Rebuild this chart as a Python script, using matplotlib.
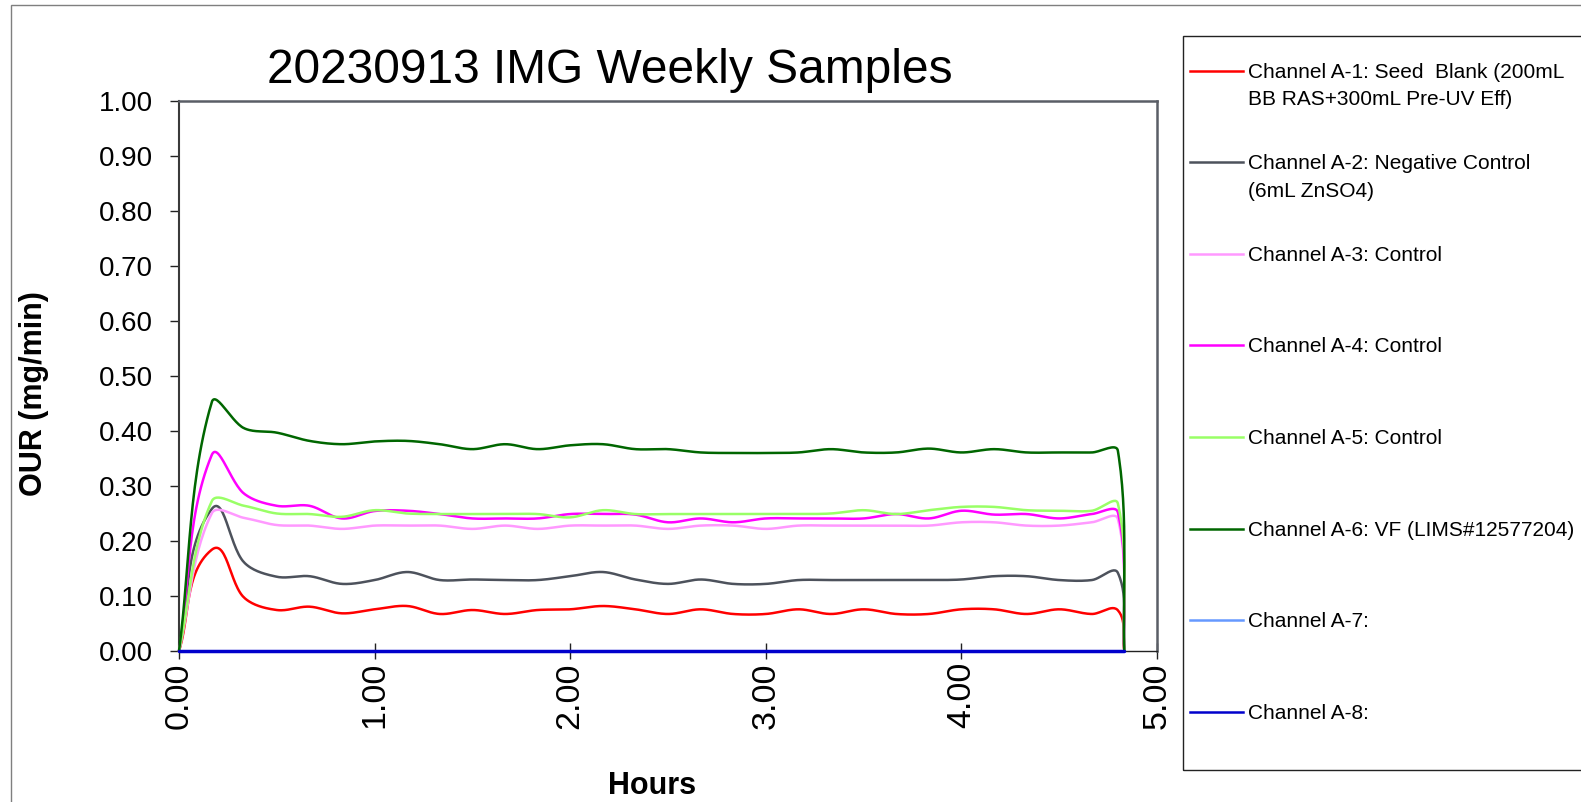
import numpy as np
import matplotlib
matplotlib.use("Agg")
import matplotlib.pyplot as plt
from matplotlib.lines import Line2D
from matplotlib.patches import Rectangle

# ---------------- data ----------------
hours = [0.000, 0.167, 0.333, 0.500, 0.667, 0.833, 1.000, 1.167, 1.333, 1.500,
         1.667, 1.833, 2.000, 2.167, 2.333, 2.500, 2.667, 2.833, 3.000, 3.167,
         3.333, 3.500, 3.667, 3.833, 4.000, 4.167, 4.333, 4.500, 4.667, 4.800, 4.833]

ch_a1 = [0, 0.184, 0.097, 0.0745, 0.0806, 0.0685, 0.0758, 0.0818, 0.0673, 0.0745,
         0.0673, 0.0745, 0.0758, 0.0818, 0.0758, 0.0673, 0.0758, 0.0673, 0.0673, 0.0758,
         0.0673, 0.0758, 0.0673, 0.0673, 0.0758, 0.0758, 0.0673, 0.0758, 0.0673, 0.074, 0]
ch_a2 = [0, 0.258, 0.161, 0.135, 0.136, 0.122, 0.129, 0.1436, 0.129, 0.130,
         0.129, 0.129, 0.136, 0.1436, 0.130, 0.122, 0.130, 0.122, 0.122, 0.129,
         0.129, 0.129, 0.129, 0.129, 0.130, 0.136, 0.136, 0.129, 0.129, 0.142, 0]
ch_a3 = [0, 0.250, 0.242, 0.229, 0.228, 0.222, 0.228, 0.228, 0.228, 0.222,
         0.228, 0.222, 0.228, 0.228, 0.228, 0.222, 0.228, 0.228, 0.222, 0.228,
         0.228, 0.228, 0.228, 0.228, 0.234, 0.234, 0.228, 0.228, 0.234, 0.240, 0]
ch_a4 = [0, 0.356, 0.286, 0.264, 0.264, 0.241, 0.2545, 0.255, 0.249, 0.241,
         0.241, 0.241, 0.249, 0.249, 0.248, 0.234, 0.241, 0.234, 0.241, 0.241,
         0.241, 0.241, 0.249, 0.241, 0.255, 0.248, 0.249, 0.241, 0.249, 0.252, 0]
ch_a5 = [0, 0.272, 0.264, 0.250, 0.249, 0.244, 0.256, 0.250, 0.249, 0.249,
         0.249, 0.249, 0.243, 0.256, 0.249, 0.249, 0.249, 0.249, 0.249, 0.249,
         0.250, 0.256, 0.249, 0.256, 0.262, 0.262, 0.256, 0.255, 0.255, 0.268, 0]
ch_a6 = [0, 0.452, 0.405, 0.397, 0.382, 0.376, 0.381, 0.382, 0.376, 0.367,
         0.376, 0.367, 0.374, 0.376, 0.367, 0.367, 0.361, 0.360, 0.360, 0.361,
         0.367, 0.361, 0.361, 0.368, 0.361, 0.367, 0.361, 0.361, 0.361, 0.364, 0]
ch_a7 = [0, 0, 0, 0, 0, 0, 0, 0, 0, 0, 0, 0, 0, 0, 0, 0,
         0, 0, 0, 0, 0, 0, 0, 0, 0, 0, 0, 0, 0, 0, 0]
ch_a8 = [0, 0, 0, 0, 0, 0, 0, 0, 0, 0, 0, 0, 0, 0, 0, 0,
         0, 0, 0, 0, 0, 0, 0, 0, 0, 0, 0, 0, 0, 0, 0]

labels = ["Channel A-1: Seed  Blank (200mL\nBB RAS+300mL Pre-UV Eff)",
          "Channel A-2: Negative Control\n(6mL ZnSO4)",
          "Channel A-3: Control",
          "Channel A-4: Control",
          "Channel A-5: Control",
          "Channel A-6: VF (LIMS#12577204)",
          "Channel A-7:",
          "Channel A-8:"]
colors = ["#FF0000", "#4D525C", "#FF99FF", "#FF00FF",
          "#99FF66", "#006600", "#6699FF", "#0000CC"]
series = [ch_a1, ch_a2, ch_a3, ch_a4, ch_a5, ch_a6, ch_a7, ch_a8]

x_ticks = [0.0, 1.0, 2.0, 3.0, 4.0, 5.0]
y_ticks = [0.0, 0.1, 0.2, 0.3, 0.4, 0.5, 0.6, 0.7, 0.8, 0.9, 1.0]

# ---------------- figure ----------------
plt.rcParams["font.family"] = ["Liberation Sans", "DejaVu Sans"]
W, H = 1581, 802
fig = plt.figure(figsize=(W / 100, H / 100), dpi=100)
fig.patch.set_facecolor("white")

def fx(px):
    return px / W

def fy(py):
    return 1 - py / H

ax = fig.add_axes([fx(179), fy(651), fx(1157) - fx(179), fy(101) - fy(651)])
ax.set_xlim(0, 5)
ax.set_ylim(0, 1)


def smooth(ax, xs, ys, k=1 / 3, n=30):
    pts = ax.transData.transform(np.column_stack([xs, ys]))
    N = len(pts)
    out = [pts[0]]
    for i in range(N - 1):
        p0 = pts[i - 1] if i > 0 else pts[i]
        p1 = pts[i]
        p2 = pts[i + 1]
        p3 = pts[i + 2] if i + 2 < N else pts[i + 1]
        seg = np.hypot(*(p2 - p1))
        d1 = p2 - p0
        n1 = np.hypot(*d1)
        d1 = d1 / n1 if n1 > 0 else d1
        d2 = p3 - p1
        n2 = np.hypot(*d2)
        d2 = d2 / n2 if n2 > 0 else d2
        c1 = p1 + d1 * seg * k
        c2 = p2 - d2 * seg * k
        t = np.linspace(0, 1, n)[1:, None]
        curve = ((1 - t) ** 3) * p1 + 3 * t * (1 - t) ** 2 * c1 \
            + 3 * t ** 2 * (1 - t) * c2 + t ** 3 * p2
        out.extend(curve)
    out = np.array(out)
    return ax.transData.inverted().transform(out)


for vals, col in zip(series, colors):
    cur = smooth(ax, hours, vals)
    lw = 2.5 if col == "#0000CC" else 1.8
    ax.plot(cur[:, 0], cur[:, 1], color=col, lw=lw, solid_capstyle="round",
            clip_on=False, zorder=3)

ax.set_xticks(x_ticks)
ax.set_xticklabels([f"{v:.2f}" for v in x_ticks], rotation=90, fontsize=24.5)
ax.set_yticks(y_ticks)
ax.set_yticklabels([f"{v:.2f}" for v in y_ticks], fontsize=20)
ax.tick_params(axis="x", direction="inout", length=12, width=1, color="#222222", pad=2)
ax.tick_params(axis="y", direction="out", length=6.5, width=1, color="#222222", pad=12)

for s in ["top", "right"]:
    ax.spines[s].set_color("#5A5E66")
    ax.spines[s].set_linewidth(1.8)
ax.spines["left"].set_color("#3A3A3A")
ax.spines["left"].set_linewidth(1.5)
ax.spines["bottom"].set_color("#222222")
ax.spines["bottom"].set_linewidth(1.0)

# titles
fig.text(fx(610), fy(83), "20230913 IMG Weekly Samples", fontsize=34.5,
         ha="center", va="baseline")
fig.text(fx(34), fy(394), "OUR (mg/min)", fontsize=22, fontweight="bold",
         rotation=90, ha="center", va="center")
fig.text(fx(652.5), fy(794), "Hours", fontsize=22, fontweight="bold",
         ha="center", va="baseline")

# outer border
fig.add_artist(Rectangle((fx(10.5), -0.1), 2, fy(5) + 0.1, transform=fig.transFigure,
                         fill=False, ec="#7F7F7F", lw=1))
# legend box
fig.add_artist(Rectangle((fx(1182.5), fy(769.5)), fx(1620) - fx(1182.5),
                         fy(36) - fy(769.5), transform=fig.transFigure,
                         fill=False, ec="#222222", lw=1))
for i, (lab, col) in enumerate(zip(labels, colors)):
    ly = 70.7 + i * 91.6
    fig.add_artist(Line2D([fx(1190), fx(1243)], [fy(ly), fy(ly)],
                          transform=fig.transFigure, color=col, lw=1.8))
    fig.text(fx(1248), fy(ly - 8.0), lab, fontsize=15, ha="left", va="top",
             linespacing=1.55)

fig.savefig("out.png", dpi=100)
